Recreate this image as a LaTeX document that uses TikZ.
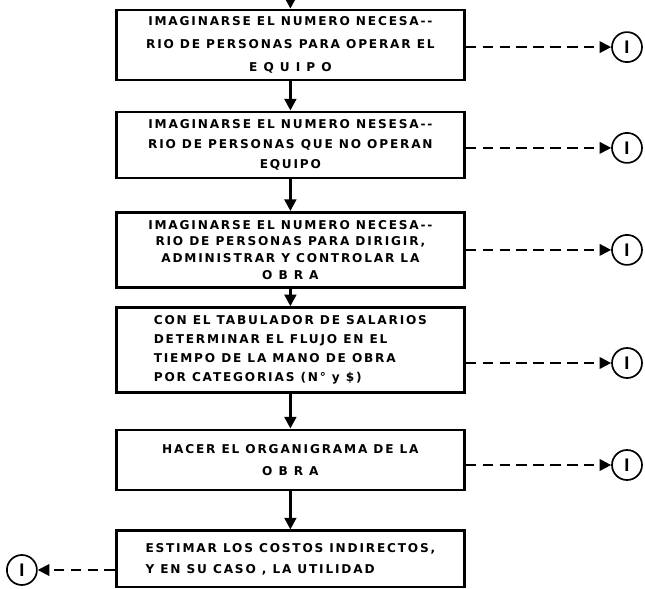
\documentclass[tikz,border=0pt]{standalone}
\usepackage{fontspec}
\setmainfont{Liberation Sans}
\newfontfamily\rotulo[LetterSpace=15]{DejaVu Sans}
\usetikzlibrary{arrows.meta}

\begin{document}
\begin{tikzpicture}[
    >={Triangle[length=11pt,width=11pt]},
    paso/.style={draw, line width=2.6pt, minimum width=11.6cm, align=center,
        font=\rotulo\bfseries\fontsize{11.5}{#1}\selectfont},
    paso/.default=19,
    conector/.style={circle, draw, line width=1.6pt, minimum size=1cm,
        inner sep=0pt, font=\bfseries\LARGE},
    flecha/.style={->, line width=2.6pt},
    liga/.style={->, line width=1.8pt, dash pattern=on 10pt off 6pt}
]
\useasboundingbox (0,0) rectangle (21.5,-19.63);
% Pasos
\node[paso=22, minimum height=2.33cm] (p1) at (9.68,-1.5)
    {IMAGINARSE EL NUMERO NECESA--\\RIO DE PERSONAS PARA OPERAR EL\\E Q U I P O};
\node[paso, minimum height=2.2cm] (p2) at (9.68,-4.83)
    {IMAGINARSE EL NUMERO NESESA--\\RIO DE PERSONAS QUE NO OPERAN\\EQUIPO};
\node[paso=16, minimum height=2.5cm] (p3) at (9.68,-8.33)
    {IMAGINARSE EL NUMERO NECESA--\\RIO DE PERSONAS PARA DIRIGIR,\\ADMINISTRAR Y CONTROLAR LA\\O B R A};
\node[paso=18, minimum height=2.83cm, align=left] (p4) at (9.68,-11.67)
    {CON EL TABULADOR DE SALARIOS\\DETERMINAR EL FLUJO EN EL\\TIEMPO DE LA MANO DE OBRA\\POR CATEGORIAS (N° y \$)};
\node[paso=21, minimum height=2cm] (p5) at (9.68,-15.33)
    {HACER EL ORGANIGRAMA DE LA\\O B R A};
\node[paso=20, minimum height=1.87cm, align=left] (p6) at (9.68,-18.63)
    {ESTIMAR LOS COSTOS INDIRECTOS,\\Y EN SU CASO , LA UTILIDAD};
% Flujo principal
\coordinate (entrada) at (9.68,0);
\draw[flecha] (entrada) -- (p1);
\foreach \a/\b in {p1/p2,p2/p3,p3/p4,p4/p5,p5/p6}
    \draw[flecha] (\a) -- (\b);
% Conectores a la derecha
\foreach \i/\y in {1/-1.57,2/-4.93,3/-8.33,4/-12.1,5/-15.5} {
    \node[conector] (c\i) at (20.9,\y) {I};
    \draw[liga] (p\i.east |- c\i) -- (c\i);
}
% Conector a la izquierda
\node[conector] (c6) at (0.73,-19.0) {I};
\draw[liga] (p6.west |- c6) -- (c6);
\end{tikzpicture}
\end{document}
